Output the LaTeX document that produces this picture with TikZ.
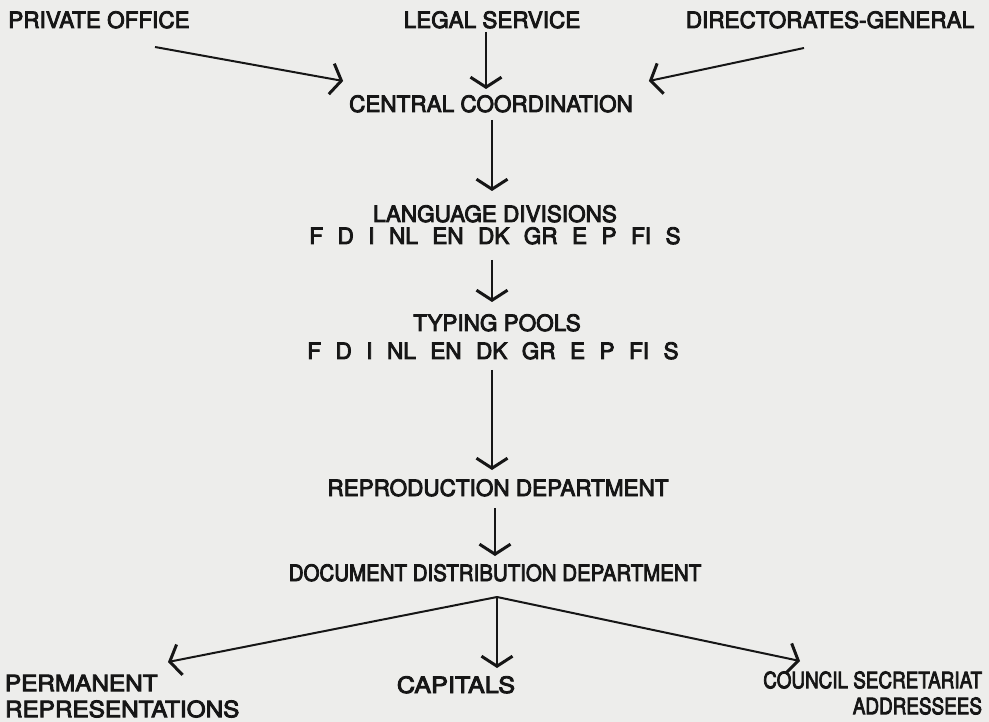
\documentclass[tikz,border=0pt]{standalone}
\usepackage{fontspec}
\setmainfont{TeX Gyre Heros}[FakeBold=3.8]
\usetikzlibrary{arrows.meta,calc}
\definecolor{paper}{RGB}{237,237,235}
\definecolor{ink}{RGB}{22,22,22}
\newcommand{\lgap}{\hspace{14.5pt}}
\newcommand{\sx}[2]{\scalebox{#1}[1]{#2}}
\begin{document}
\begin{tikzpicture}[x=1pt,y=-1pt,
  lbl/.style={inner sep=0pt, outer sep=0pt, text=ink, font=\fontsize{22.5}{26}\selectfont},
  one/.style={text height=16pt, text depth=0pt},
  arr/.style={draw=ink, line width=2pt, -{Straight Barb[length=10pt,width=31pt,line width=3pt]}}]
\fill[paper] (0,0) rectangle (989,722);
\useasboundingbox (0,0) rectangle (989,722);
% top row
\node[lbl,one] (po) at (99,20) {PRIVATE OFFICE};
\node[lbl,one] (ls) at (492,20) {LEGAL SERVICE};
\node[lbl,one] (dg) at (830,20) {DIRECTORATES-GENERAL};
% chain
\node[lbl,one] (cc) at (491,104) {CENTRAL COORDINATION};
\node[lbl,one] (ld) at (495,214) {LANGUAGE DIVISIONS};
\node[lbl,one] (ldl) at (495,236) {F\lgap D\lgap I\lgap NL\lgap EN\lgap DK\lgap GR\lgap E\lgap P\lgap FI\lgap S};
\node[lbl,one] (tp) at (497,323) {TYPING POOLS};
\node[lbl,one] (tpl) at (493,351) {F\lgap D\lgap I\lgap NL\lgap EN\lgap DK\lgap GR\lgap E\lgap P\lgap FI\lgap S};
\node[lbl,one] (rd) at (498,488) {REPRODUCTION DEPARTMENT};
\node[lbl,one] (dd) at (495,573) {\sx{0.91}{DOCUMENT DISTRIBUTION DEPARTMENT}};
% bottom row
\node[lbl,anchor=north west] (pr) at (5,673) {\sx{1.08}{\begin{tabular}{@{}l@{}}PERMANENT\\REPRESENTATIONS\end{tabular}}};
\node[lbl,one] (cap) at (456,685) {\sx{1.12}{CAPITALS}};
\node[lbl,anchor=north east] (cs) at (982,670) {\sx{0.84}{\begin{tabular}{@{}r@{}}COUNCIL SECRETARIAT\\ADDRESSEES\end{tabular}}};
% connectors into central coordination
\draw[arr] ($(po.south)+(56,19)$) -- ($(cc.north west)+(-6,-15)$);
\draw[arr] ($(ls.south)+(-6,4)$) -- ($(ls.south |- cc.north)+(-6,-7)$);
\draw[arr] ($(dg.south)+(-26,20)$) -- ($(cc.north east)+(16,-15)$);
% chain
\draw[arr] ($(cc.south)+(1,8)$) -- ($(cc.south |- ld.north)+(1,-15)$);
\draw[arr] ($(ld.south |- ldl.south)+(-3,16)$) -- ($(ld.south |- tp.north)+(-3,-13)$);
\draw[arr] ($(tp.south |- tpl.south)+(-5,11)$) -- ($(tp.south |- rd.north)+(-5,-10)$);
\draw[arr] ($(rd.south)+(-3,12)$) -- ($(rd.south |- dd.north)+(-3,-9)$);
% distribution
\coordinate (br) at ($(dd.south)+(2,16)$);
\draw[arr] (br) -- ($(pr.north west)+(163,-11)$);
\draw[arr] (br) -- ($(br |- cap.north)+(0,-9)$);
\draw[arr] (br) -- ($(cs.north east)+(-182,-9)$);
\end{tikzpicture}
\end{document}
